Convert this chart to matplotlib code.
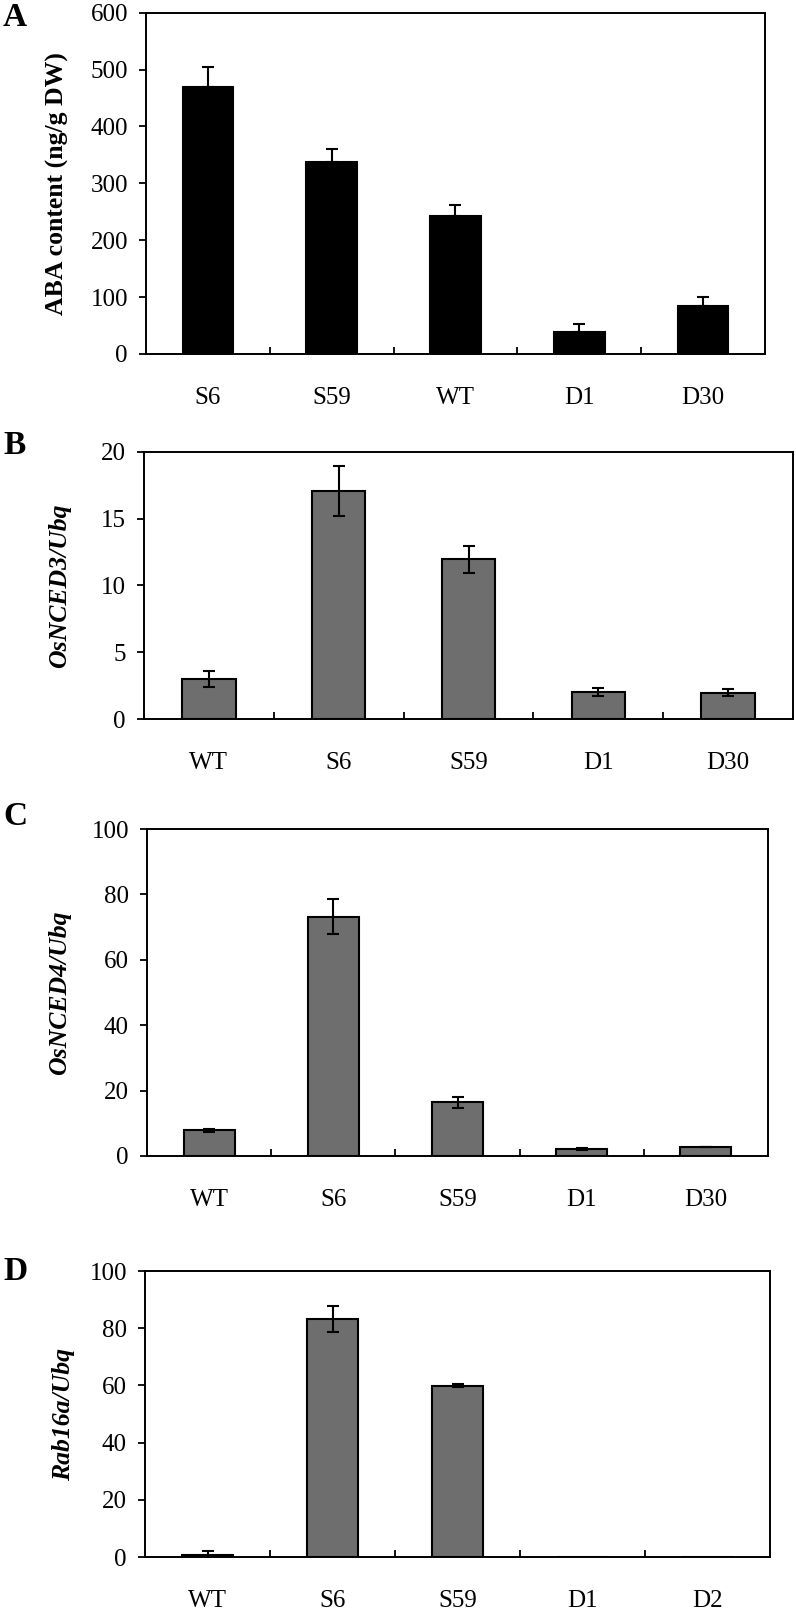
import matplotlib
matplotlib.use("Agg")
import matplotlib.pyplot as plt

plt.rcParams['font.family'] = ['Liberation Serif', 'DejaVu Serif']

# panel A: ABA content
a_labels = ['S6', 'S59', 'WT', 'D1', 'D30']
a_vals = [470, 338, 242, 38, 84]
a_err = [34, 23, 20, 14, 17]

# panel B: OsNCED3
b_labels = ['WT', 'S6', 'S59', 'D1', 'D30']
b_vals = [3.0, 17.05, 11.95, 2.05, 1.97]
b_err = [0.63, 1.87, 1.0, 0.3, 0.24]

# panel C: OsNCED4
c_labels = ['WT', 'S6', 'S59', 'D1', 'D30']
c_vals = [7.8, 73.2, 16.4, 2.1, 2.7]
c_err = [0.6, 5.4, 1.6, 0.3, 0.1]

# panel D: Rab16a
d_labels = ['WT', 'S6', 'S59', 'D1', 'D2']
d_vals = [0.7, 83.2, 59.9, 0, 0]
d_err = [1.3, 4.5, 0.5, 0, 0]

W, H = 796, 1610
fig = plt.figure(figsize=(W / 100, H / 100), dpi=100)

def box(l, r, t, b):
    return [l / W, 1 - b / H, (r - l) / W, (b - t) / H]

panels = [
    # letter, labels, vals, err, ylim, step, ylabel, style, colour, box, letter y, ylabel x
    ('A', a_labels, a_vals, a_err, 600, 100, 'ABA content (ng/g DW)', 'normal', 'black',
     box(146, 765, 12.7, 354), 17, 57),
    ('B', b_labels, b_vals, b_err, 20, 5, 'OsNCED3/Ubq', 'italic', '#6e6e6e',
     box(144, 793, 452, 719), 445, 60),
    ('C', c_labels, c_vals, c_err, 100, 20, 'OsNCED4/Ubq', 'italic', '#6e6e6e',
     box(147, 768, 829, 1156), 816, 60),
    ('D', d_labels, d_vals, d_err, 100, 20, 'Rab16a/Ubq', 'italic', '#6e6e6e',
     box(145, 770, 1271, 1557), 1271, 64),
]

for letter, labels, vals, err, ytop, step, ylab, style, colour, rect, ly, yx in panels:
    ax = fig.add_axes(rect)
    x = list(range(len(labels)))
    ax.bar(x, vals, width=0.41, color=colour, edgecolor='black', linewidth=1.5, zorder=2)
    keep = [i for i in x if err[i] > 0]
    if letter == 'A':
        lower = [0] * len(keep)
    else:
        lower = [err[i] for i in keep]
    ax.errorbar([x[i] for i in keep], [vals[i] for i in keep],
                yerr=[lower, [err[i] for i in keep]], fmt='none', ecolor='black',
                elinewidth=1.5, capsize=4.5, capthick=1.5, zorder=3)
    ax.set_xlim(-0.5, len(labels) - 0.5)
    ax.set_ylim(0, ytop)
    ax.set_yticks(range(0, ytop + 1, step))
    ax.set_xticks([i + 0.5 for i in x[:-1]])
    ax.set_xticklabels([])
    ax.set_xticks(x, minor=True)
    ax.set_xticklabels(labels, minor=True, fontsize=18)
    ax.tick_params(axis='x', which='major', direction='in', length=5, width=1.3)
    ax.tick_params(axis='x', which='minor', length=0, pad=24)
    ax.tick_params(axis='y', direction='out', length=5, width=1.3, pad=8, labelsize=18)
    for s in ax.spines.values():
        s.set_linewidth(1.4)
    fig.text(3 / W, 1 - ly / H, letter, fontsize=24, fontweight='bold', ha='left', va='center')
    cy = rect[1] + rect[3] / 2
    fig.text(yx / W, cy, ylab, fontsize=18.5, fontweight='bold', fontstyle=style,
             rotation=90, ha='center', va='center')

fig.savefig('out.png', dpi=100)
